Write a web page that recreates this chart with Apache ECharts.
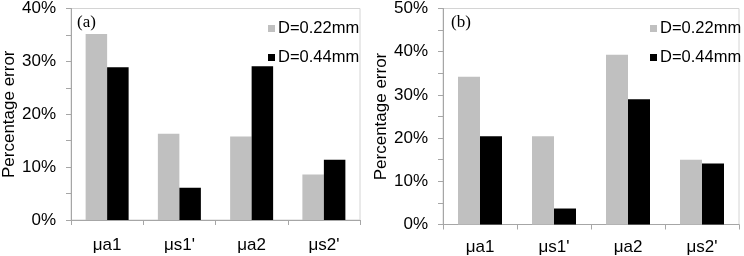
<!DOCTYPE html>
<html>
<head>
<meta charset="utf-8">
<script src="https://cdn.jsdelivr.net/npm/echarts@6/dist/echarts.min.js"></script>
<style>html,body{margin:0;padding:0;background:#fff;}#c{width:744px;height:256px;}</style>
</head>
<body>
<div id="c"></div>
<script>
var categories = ['\u03bca1', '\u03bcs1\'', '\u03bca2', '\u03bcs2\''];
var seriesNames = ['D=0.22mm', 'D=0.44mm'];
var a022 = [35.2, 16.3, 15.8, 8.6];
var a044 = [28.9, 6.1, 29.1, 11.4];
var b022 = [34.2, 20.4, 39.3, 15.0];
var b044 = [20.4, 3.7, 29.0, 14.1];
var yMaxA = 40, yMaxB = 50;
var panelLabels = ['(a)', '(b)'];

var FONT = '"Liberation Sans", Arial, sans-serif';
var AXIS_COLOR = '#a6a6a6';
var GRAY = '#c0c0c0';
var BLACK = '#000000';

function yAxis(gi, max, gap) {
  return {
    type: 'value', gridIndex: gi, min: 0, max: max, interval: 10,
    name: 'Percentage error', nameLocation: 'middle', nameRotate: 90, nameGap: gap,
    nameTextStyle: { fontFamily: FONT, fontSize: 17, color: '#000' },
    axisLine: { show: true, lineStyle: { color: AXIS_COLOR, width: 1 } },
    axisTick: { show: true, inside: false, length: 5, lineStyle: { color: AXIS_COLOR } },
    minorTick: { show: true, splitNumber: 2, length: 5, lineStyle: { color: AXIS_COLOR } },
    splitLine: { show: false },
    axisLabel: { formatter: '{value}%', fontFamily: FONT, fontSize: 17, color: '#000', margin: 15 }
  };
}
function xAxis(gi, margin) {
  return {
    type: 'category', gridIndex: gi, data: categories,
    axisLine: { show: true, lineStyle: { color: AXIS_COLOR, width: 1 } },
    axisTick: { show: true, inside: false, length: 5, lineStyle: { color: AXIS_COLOR } },
    axisLabel: { fontFamily: FONT, fontSize: 17, color: '#000', margin: margin }
  };
}
function legend(left) {
  return {
    left: left, top: 15, orient: 'vertical', itemWidth: 7, itemHeight: 7, itemGap: 12,
    icon: 'rect', data: seriesNames, selectedMode: false,
    textStyle: { fontFamily: FONT, fontSize: 16.5, color: '#000', padding: [0, 0, 0, -2] }
  };
}
function bar(name, gi, data, color, w) {
  return {
    type: 'bar', name: name, xAxisIndex: gi, yAxisIndex: gi, data: data,
    barWidth: w, barGap: 0, itemStyle: { color: color }, silent: true, animation: false
  };
}

var chart = echarts.init(document.getElementById('c'), null, { renderer: 'canvas' });
chart.setOption({
  animation: false,
  backgroundColor: '#fff',
  grid: [
    { left: 69, top: 7, right: 384, bottom: 36, show: true, borderColor: '#d4d4d4', borderWidth: 1 },
    { left: 443, top: 7, right: 5, bottom: 31.5, show: true, borderColor: '#d4d4d4', borderWidth: 1 }
  ],
  xAxis: [xAxis(0, 17), xAxis(1, 14)],
  yAxis: [yAxis(0, yMaxA, 53), yAxis(1, yMaxB, 45)],
  legend: [legend(263), legend(645)],
  series: [
    bar(seriesNames[0], 0, a022, GRAY, 21.5),
    bar(seriesNames[1], 0, a044, BLACK, 21.5),
    bar(seriesNames[0], 1, b022, GRAY, 22),
    bar(seriesNames[1], 1, b044, BLACK, 22)
  ],
  graphic: [
    { type: 'text', left: 77, top: 14, style: { text: panelLabels[0], font: '17px "Liberation Serif", "Times New Roman", serif', fill: '#000' } },
    { type: 'text', left: 451, top: 14, style: { text: panelLabels[1], font: '17px "Liberation Serif", "Times New Roman", serif', fill: '#000' } }
  ]
});
</script>
</body>
</html>
